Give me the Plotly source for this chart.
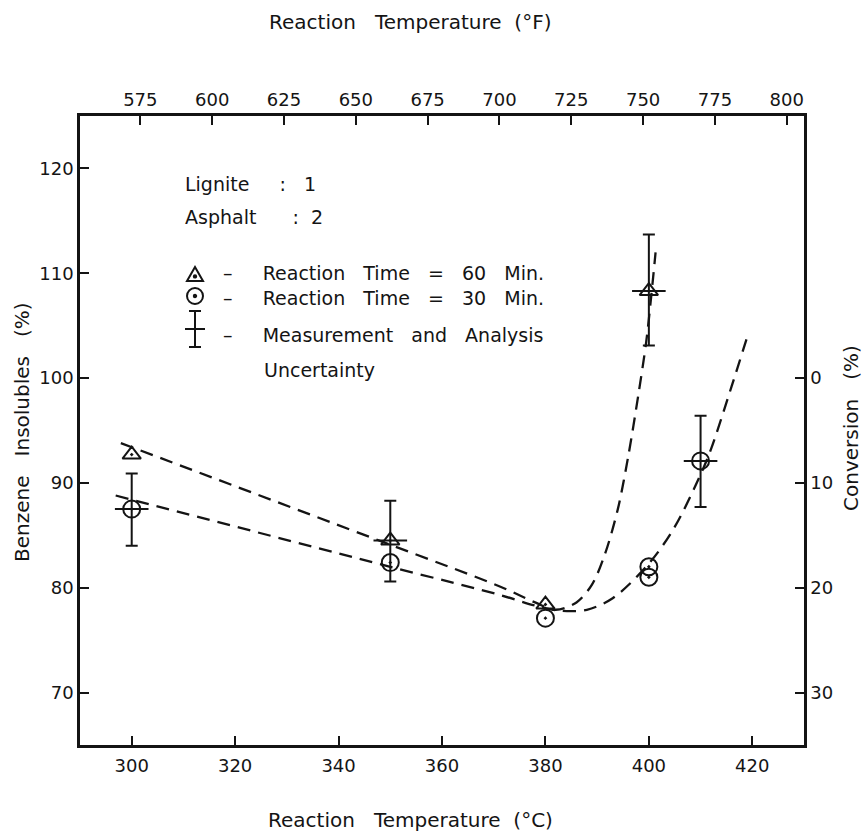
import plotly.graph_objects as go

# ---- measured points ----
temp_60 = [300, 350, 380, 400]
ins_60 = [92.7, 84.5, 78.4, 108.3]
err_60_plus = [None, 3.8, None, 5.4]
err_60_minus = [None, 3.9, None, 5.2]

temp_30 = [300, 350, 380, 400, 400, 410]
ins_30 = [87.5, 82.4, 77.1, 82.0, 81.0, 92.1]
err_30_plus = [3.4, None, None, None, None, 4.3]
err_30_minus = [3.5, None, None, None, None, 4.4]

# ---- hand-drawn trend curves ----
fit60_t = [297.9, 350.0, 371.3, 378.0, 382.0, 386.0, 389.0, 391.5, 394.0, 396.0, 398.0, 399.5, 400.5, 401.3]
fit60_v = [93.8, 84.1, 80.1, 78.6, 77.9, 78.6, 80.3, 83.2, 87.5, 92.5, 98.5, 103.5, 108.0, 112.0]
fit30_t = [296.9, 350.0, 371.3, 378.0, 383.0, 388.0, 393.0, 400.0, 405.0, 410.0, 412.0, 416.0, 419.0]
fit30_v = [88.8, 82.0, 79.3, 78.3, 77.8, 77.9, 79.0, 82.3, 85.8, 90.8, 93.2, 99.2, 103.9]

# ---- axes ----
x_c_range = [290, 430]
y_range = [65, 125]
x_c_ticks = [300, 320, 340, 360, 380, 400, 420]
y_ticks = [70, 80, 90, 100, 110, 120]
x_f_ticks = [575, 600, 625, 650, 675, 700, 725, 750, 775, 800]
conv_ticks = [0, 10, 20, 30]

INK = "#141414"
FONT = "DejaVu Sans"
W, H = 866, 835
ML, MR, MT, MB = 80, 62, 116, 90


def c_to_f(c):
    return c * 9 / 5 + 32


def px(x):
    return (x - ML) / (W - ML - MR)


def py(y):
    return (H - MB - y) / (H - MT - MB)


def pick(xs, ys, plus, minus):
    keep = [i for i, p in enumerate(plus) if p is not None]
    return ([xs[i] for i in keep], [ys[i] for i in keep],
            [plus[i] for i in keep], [minus[i] for i in keep])


fig = go.Figure()

dash = dict(color=INK, width=2.3, dash="13px,8px", shape="spline", smoothing=0.9)
fig.add_trace(go.Scatter(x=fit60_t, y=fit60_v, mode="lines", line=dash,
                         showlegend=False, hoverinfo="skip"))
fig.add_trace(go.Scatter(x=fit30_t, y=fit30_v, mode="lines", line=dash,
                         showlegend=False, hoverinfo="skip"))

# error bars with a short cross stroke at the mean
for xs, ys, plus, minus in (pick(temp_60, ins_60, err_60_plus, err_60_minus),
                            pick(temp_30, ins_30, err_30_plus, err_30_minus)):
    fig.add_trace(go.Scatter(
        x=xs, y=ys, mode="markers",
        marker=dict(symbol="line-ew-open", size=24, color=INK,
                    line=dict(color=INK, width=2)),
        error_y=dict(type="data", symmetric=False, array=plus, arrayminus=minus,
                     color=INK, thickness=2, width=6),
        showlegend=False, hoverinfo="skip"))

fig.add_trace(go.Scatter(
    x=temp_60, y=ins_60, mode="markers",
    marker=dict(symbol="triangle-up-open-dot", size=16, color=INK,
                line=dict(color=INK, width=2)),
    showlegend=False))
fig.add_trace(go.Scatter(
    x=temp_30, y=ins_30, mode="markers",
    marker=dict(symbol="circle-open-dot", size=17, color=INK,
                line=dict(color=INK, width=2)),
    showlegend=False))

# same data on the °F / conversion axes so both secondary scales render
fig.add_trace(go.Scatter(
    x=[c_to_f(t) for t in temp_30], y=[100 - v for v in ins_30],
    xaxis="x2", yaxis="y2", mode="markers", marker=dict(opacity=0),
    showlegend=False, hoverinfo="skip"))

tickfont = dict(family=FONT, size=18, color=INK)
axis_common = dict(showline=True, linewidth=2.5, linecolor=INK, ticks="inside",
                   ticklen=9, tickwidth=2, tickcolor=INK, showgrid=False,
                   zeroline=False, tickfont=tickfont)

fig.update_layout(
    width=W, height=H,
    margin=dict(l=ML, r=MR, t=MT, b=MB),
    paper_bgcolor="white", plot_bgcolor="white",
    showlegend=False,
    xaxis=dict(range=x_c_range, tickvals=x_c_ticks, ticklabelstandoff=3, **axis_common),
    yaxis=dict(range=y_range, tickvals=y_ticks, **axis_common),
    xaxis2=dict(range=[c_to_f(v) for v in x_c_range], tickvals=x_f_ticks,
                overlaying="x", side="top", anchor="y", **axis_common),
    yaxis2=dict(range=[100 - y_range[0], 100 - y_range[1]], tickvals=conv_ticks,
                overlaying="y", side="right", anchor="x", **axis_common),
)

nb = "\u00a0"
gap = nb * 3
title_font = dict(family=FONT, size=20, color=INK)
key_font = dict(family=FONT, size=19, color=INK)
row60 = "–" + nb * 5 + "Reaction" + gap + "Time" + gap + "=" + gap + "60" + gap + "Min."
row30 = "–" + nb * 5 + "Reaction" + gap + "Time" + gap + "=" + gap + "30" + gap + "Min."
notes = [
    ("Reaction" + nb * 3 + "Temperature" + nb * 2 + "(°F)", 410, 22, "center", 0, title_font),
    ("Reaction" + nb * 3 + "Temperature" + nb * 2 + "(°C)", 410, 820, "center", 0, title_font),
    ("Benzene" + nb * 3 + "Insolubles" + nb * 3 + "(%)", 22, 432, "center", -90, title_font),
    ("Conversion" + nb * 3 + "(%)", 851, 428, "center", -90, title_font),
    ("Lignite" + nb * 5 + ":" + nb * 3 + "1", 183, 184, "left", 0, key_font),
    ("Asphalt" + nb * 6 + ":" + nb * 2 + "2", 183, 217, "left", 0, key_font),
    (row60 + "<br>" + row30, 221, 285.5, "left", 0, key_font),
    ("–" + nb * 5 + "Measurement" + gap + "and" + gap + "Analysis", 221, 335, "left", 0, key_font),
    ("Uncertainty", 262, 370, "left", 0, key_font),
]
for text, x, y, anchor, angle, font in notes:
    fig.add_annotation(text=text, x=px(x), y=py(y), xref="paper", yref="paper",
                       xanchor=anchor, yanchor="middle", align="left", showarrow=False,
                       textangle=angle, font=font)

# key glyphs: triangle, circle, error bar
gx = px(195)
glyph = dict(xref="paper", yref="paper", xsizemode="pixel", ysizemode="pixel",
             line=dict(color=INK, width=2))
fig.add_shape(type="path", xanchor=gx, yanchor=py(275), path="M-8,-6 L8,-6 L0,8 Z", **glyph)
fig.add_shape(type="circle", xanchor=gx, yanchor=py(275), x0=-1.2, x1=1.2, y0=-2.6, y1=-0.2,
              fillcolor=INK, **glyph)
fig.add_shape(type="circle", xanchor=gx, yanchor=py(296), x0=-8, x1=8, y0=-8, y1=8, **glyph)
fig.add_shape(type="circle", xanchor=gx, yanchor=py(296), x0=-1.2, x1=1.2, y0=-1.2, y1=1.2,
              fillcolor=INK, **glyph)
fig.add_shape(type="path", xanchor=gx, yanchor=py(329),
              path="M0,-18 L0,18 M-6,18 L6,18 M-6,-18 L6,-18 M-10,0 L10,0", **glyph)

fig.write_html("out.html")
